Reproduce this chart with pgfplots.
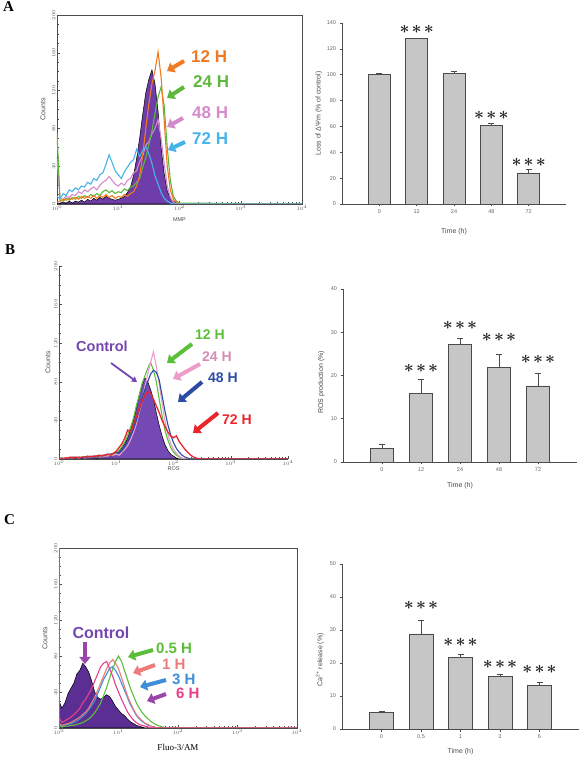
\documentclass[border=0pt]{standalone}
\usepackage{fontspec}
\setmainfont{Liberation Sans}
\newfontfamily\seriffont{Liberation Serif}
\usepackage{pgfplots}
\pgfplotsset{compat=1.18}
\usepackage{pgfplotstable}
\usetikzlibrary{arrows.meta}

\definecolor{ctlA}{HTML}{6E3DAA}
\definecolor{orangeA}{HTML}{F07A22}
\definecolor{greenA}{HTML}{5CB83C}
\definecolor{pinkA}{HTML}{D48ACB}
\definecolor{blueA}{HTML}{45B4E8}
\definecolor{ctlB}{HTML}{7449B4}
\definecolor{greenB}{HTML}{5CBF3A}
\definecolor{pinkB}{HTML}{EC9CC9}
\definecolor{blueB}{HTML}{2C4CA4}
\definecolor{redB}{HTML}{E8262C}
\definecolor{ctlC}{HTML}{5A2E92}
\definecolor{greenC}{HTML}{5DBD3B}
\definecolor{salmonC}{HTML}{EF7A7A}
\definecolor{blueC}{HTML}{3E8ED8}
\definecolor{pinkC}{HTML}{E8408A}
\definecolor{violetC}{HTML}{9A45AA}
\definecolor{ctltext}{HTML}{7447B0}
\definecolor{barfill}{HTML}{C6C6C6}
\definecolor{bardraw}{HTML}{4A4A4A}

% MMP histogram: control, 12 h, 24 h, 48 h, 72 h
\pgfplotstableread{
x ctl o12 g24 p48 b72
1.000 0 2 75 48 8
1.122 1 3 4 6 6
1.259 2 5 3 5 11
1.413 1 4 6 8 9
1.585 3 6 4 7 15
1.778 1 5 7 10 13
1.995 3 7 5 9 17
2.239 2 5 8 13 15
2.512 4 8 6 11 19
2.818 2 6 9 15 18
3.162 5 8 7 13 23
3.548 3 6 10 16 21
3.981 6 9 8 18 27
4.467 4 6 11 15 25
5.012 7 9 9 20 31
5.623 5 7 13 23 33
6.310 8 10 15 25 42
7.079 6 7 12 29 52
7.943 5 9 14 25 44
8.913 4 6 11 21 35
10.00 5 8 13 19 31
11.22 6 7 12 22 27
12.59 8 10 16 20 34
14.13 12 8 14 25 39
15.85 18 11 18 27 44
17.78 30 13 19 33 47
19.95 48 19 23 35 58
22.39 70 30 27 45 50
25.12 95 52 39 51 57
28.18 118 80 49 62 61
31.62 132 106 63 66 53
35.48 142 127 77 74 43
39.81 127 141 96 80 30
44.67 98 161 113 89 21
50.12 60 134 124 69 12
56.23 32 88 104 43 6
63.10 14 40 60 19 3
70.79 6 15 25 7 1
79.43 3 5 8 2 0
89.13 1 2 3 0 0
100.0 0 0 1 0 0
10000 0 0 0 0 0
}\histA

% ROS histogram: control, 12 h, 24 h, 48 h, 72 h
\pgfplotstableread{
x ctl g12 p24 b48 r72
1.000 0 0 0 0 1
1.122 0 1 0 1 0
1.259 1 0 1 0 1
1.413 0 1 0 1 1
1.585 1 1 1 1 2
1.778 1 2 1 2 1
1.995 1 1 2 1 2
2.239 2 1 1 2 1
2.512 1 2 2 1 2
2.818 2 2 1 2 2
3.162 1 1 2 2 3
3.548 2 2 2 3 2
3.981 2 3 2 2 3
4.467 1 2 3 3 3
5.012 2 3 2 3 4
5.623 3 2 3 4 3
6.310 3 3 3 4 4
7.079 4 4 3 5 5
7.943 3 5 4 5 4
8.913 5 4 4 6 6
10.00 6 6 5 7 8
11.22 8 9 4 6 12
12.59 12 13 7 9 16
14.13 16 18 10 13 22
15.85 22 25 14 18 30
17.78 30 33 20 24 28
19.95 40 42 27 31 36
22.39 52 55 36 40 44
25.12 66 66 48 50 52
28.18 76 78 60 62 60
31.62 84 86 75 72 66
35.48 80 94 88 80 70
39.81 72 100 100 88 68
44.67 62 92 111 92 62
50.12 48 80 96 90 55
56.23 35 62 78 82 48
63.10 24 45 58 66 40
70.79 15 30 40 50 34
79.43 9 20 26 36 28
89.13 5 12 16 25 24
100.0 3 7 10 17 22
112.2 1 4 6 11 24
125.9 0 2 3 7 18
141.3 0 1 1 4 14
158.5 0 0 0 2 10
177.8 0 0 0 1 7
199.5 0 0 0 0 4
223.9 0 0 0 0 2
251.2 0 0 0 0 1
281.8 0 0 0 0 0
10000 0 0 0 0 0
}\histB

% Fluo-3/AM histogram: control, 0.5 h, 1 h, 3 h, 6 h
\pgfplotstableread{
x ctl g05 s1 b3 m6
1.000 30 3 5 4 12
1.122 22 1 3 2 6
1.259 28 2 4 3 8
1.413 38 2 5 4 10
1.585 44 3 6 5 12
1.778 50 3 8 6 15
1.995 60 4 10 8 18
2.239 64 5 12 10 22
2.512 72 6 15 13 28
2.818 68 8 18 16 32
3.162 62 10 22 20 38
3.548 52 13 28 25 44
3.981 40 17 34 30 52
4.467 34 22 42 38 60
5.012 32 28 50 46 68
5.623 34 36 58 54 72
6.310 37 45 66 60 74
7.079 35 55 72 66 66
7.943 30 65 76 68 58
8.913 24 74 72 64 48
10.00 20 80 66 58 40
11.22 16 74 56 50 32
12.59 14 64 46 42 25
14.13 10 54 36 34 18
15.85 7 44 28 26 13
17.78 5 36 21 20 9
19.95 3 28 15 14 6
22.39 2 22 11 10 4
25.12 1 17 8 7 3
28.18 0 13 5 5 2
31.62 0 10 4 3 1
35.48 0 7 2 2 0
39.81 0 5 1 1 0
44.67 0 3 0 0 0
50.12 0 2 0 0 0
56.23 0 1 0 0 0
63.10 0 0 0 0 0
10000 0 0 0 0 0
}\histC

% bar data: position, mean, SD
\pgfplotstableread{
x y e
0 100 0.8
1 128 0.4
2 101 1.8
3 60.5 1.8
4 24 2.8
}\barA
\pgfplotstableread{
x y e
0 3.2 0.9
1 15.9 3.3
2 27.2 1.5
3 21.8 3.1
4 17.6 3.0
}\barB
\pgfplotstableread{
x y e
0 5.0 0.5
1 28.8 4.0
2 21.7 0.9
3 15.9 0.8
4 13.1 1.0
}\barC

\tikzset{
  stars/.style={font=\boldmath\fontsize{17}{17}\selectfont, text=black!85, inner sep=0},
  harrow/.style={line width=4pt, -{Triangle[length=7pt,width=11pt]}},
}
\newcommand{\threestars}{${\ast}\mkern2mu{\ast}\mkern2mu{\ast}$}

\begin{document}
\begin{tikzpicture}
\path[use as bounding box] (0pt,0pt) rectangle (585pt,760pt);

% panel letters
\node[anchor=base west, inner sep=0, font=\seriffont\bfseries\fontsize{15}{15}\selectfont] at (3pt,748pt) {A};
\node[anchor=base west, inner sep=0, font=\seriffont\bfseries\fontsize{15}{15}\selectfont] at (5pt,505pt) {B};
\node[anchor=base west, inner sep=0, font=\seriffont\bfseries\fontsize{15}{15}\selectfont] at (4pt,235pt) {C};

% ---------------- A: MMP histogram ----------------
\begin{axis}[scale only axis, at={(57pt,556pt)}, anchor=south west,
  width=245pt, height=189pt,
  xmode=log, xmin=1, xmax=10000, ymin=0, ymax=200,
  ytick={0,40,80,120,160,200}, minor y tick num=3,
  xtick pos=bottom, ytick pos=left, tick align=inside,
  major tick length=3pt, minor tick length=1.6pt,
  tick style={black!70, line width=0.4pt},
  tick label style={font=\fontsize{5.5}{6}\selectfont, text=black!65},
  yticklabel style={rotate=90, anchor=south, inner sep=1.5pt},
  xticklabel style={inner sep=1pt},
  axis line style={black!70, line width=0.5pt},
  ylabel={Counts},
  ylabel style={font=\fontsize{7}{8}\selectfont, text=black!70, anchor=center, at={(axis description cs:-0.057,0.5)}},
  xlabel={MMP},
  xlabel style={font=\fontsize{5.5}{6}\selectfont, text=black!70, anchor=center, at={(axis description cs:0.5,0)}, yshift=-16pt}]
\addplot[fill=ctlA, draw=black, line width=0.5pt] table[x=x,y=ctl]{\histA} \closedcycle;
\addplot[pinkA, line width=1.1pt, no marks] table[x=x,y=p48]{\histA};
\addplot[greenA, line width=1.1pt, no marks] table[x=x,y=g24]{\histA};
\addplot[orangeA, line width=1.1pt, no marks] table[x=x,y=o12]{\histA};
\addplot[blueA, line width=1.1pt, no marks] table[x=x,y=b72]{\histA};
\end{axis}
\draw[harrow, orangeA] (184pt,699pt) -- (167pt,689pt);
\draw[harrow, greenA] (184pt,673pt) -- (167pt,662pt);
\draw[harrow, pinkA] (183pt,642pt) -- (167pt,633pt);
\draw[harrow, blueA] (185pt,618pt) -- (168pt,610pt);
\node[anchor=west, inner sep=0, font=\bfseries\fontsize{17}{17}\selectfont, text=orangeA] at (191pt,703pt) {12 H};
\node[anchor=west, inner sep=0, font=\bfseries\fontsize{17}{17}\selectfont, text=greenA] at (193pt,678pt) {24 H};
\node[anchor=west, inner sep=0, font=\bfseries\fontsize{17}{17}\selectfont, text=pinkA] at (192pt,647pt) {48 H};
\node[anchor=west, inner sep=0, font=\bfseries\fontsize{17}{17}\selectfont, text=blueA] at (192pt,621pt) {72 H};

% ---------------- A: loss of membrane potential ----------------
\begin{axis}[scale only axis, at={(342pt,556pt)}, anchor=south west,
  width=224pt, height=181pt,
  xmin=-1, xmax=5, ymin=0, ymax=140,
  axis x line*=bottom, axis y line*=left,
  axis line style={-, draw=black!70, line width=0.6pt},
  xtick={0,1,2,3,4}, xticklabels={0,12,24,48,72},
  ytick={0,20,40,60,80,100,120,140},
  tick align=outside, major tick length=2.5pt,
  tick style={black!70, line width=0.5pt},
  tick label style={font=\fontsize{5.5}{6}\selectfont, text=black!60},
  /pgf/number format/assume math mode=true,
  ylabel={Loss of ΔΨm (\% of control)},
  ylabel style={font=\fontsize{7}{8}\selectfont, text=black!70, anchor=center, at={(axis description cs:-0.103,0.5)}},
  xlabel={Time (h)},
  xlabel style={font=\fontsize{7}{8}\selectfont, text=black!70, anchor=center, at={(axis description cs:0.5,0)}, yshift=-28pt}]
\addplot[ybar, bar width=22pt, fill=barfill, draw=bardraw, line width=0.6pt,
  error bars/.cd, y dir=plus, y explicit,
  error bar style={draw=bardraw, line width=0.6pt},
  error mark options={rotate=90, mark size=3pt, draw=bardraw, line width=0.6pt}]
  table[x=x,y=y,y error=e]{\barA};
\node[stars] at (axis cs:1,135.3) {\threestars};
\node[stars] at (axis cs:3,68.8) {\threestars};
\node[stars] at (axis cs:4,32.5) {\threestars};
\end{axis}

% ---------------- B: ROS histogram ----------------
\begin{axis}[scale only axis, at={(59pt,301pt)}, anchor=south west,
  width=229pt, height=193pt,
  xmode=log, xmin=1, xmax=10000, ymin=0, ymax=200,
  axis x line*=bottom, axis y line*=left,
  ytick={0,40,80,120,160,200}, minor y tick num=3,
  tick align=inside,
  major tick length=3pt, minor tick length=1.6pt,
  tick style={black!70, line width=0.4pt},
  tick label style={font=\fontsize{5.5}{6}\selectfont, text=black!65},
  yticklabel style={rotate=90, anchor=south, inner sep=1.5pt},
  xticklabel style={inner sep=1pt},
  axis line style={-, black!70, line width=0.5pt},
  ylabel={Counts},
  ylabel style={font=\fontsize{7}{8}\selectfont, text=black!70, anchor=center, at={(axis description cs:-0.048,0.5)}},
  xlabel={ROS},
  xlabel style={font=\fontsize{5.5}{6}\selectfont, text=black!70, anchor=center, at={(axis description cs:0.5,0)}, yshift=-10pt}]
\addplot[fill=ctlB, draw=black, line width=0.5pt] table[x=x,y=ctl]{\histB} \closedcycle;
\addplot[greenB, line width=1.1pt, no marks] table[x=x,y=g12]{\histB};
\addplot[pinkB, line width=1.1pt, no marks] table[x=x,y=p24]{\histB};
\addplot[blueB, line width=1.1pt, no marks] table[x=x,y=b48]{\histB};
\addplot[redB, line width=1.3pt, no marks] table[x=x,y=r72]{\histB};
\end{axis}
\draw[harrow, greenB] (192pt,416pt) -- (167pt,397pt);
\draw[harrow, pinkB] (200pt,396pt) -- (173pt,381pt);
\draw[harrow, blueB] (202pt,378pt) -- (178pt,358pt);
\draw[harrow, redB] (218pt,347pt) -- (193pt,327pt);
\draw[line width=1.8pt, ctltext, -{Triangle[length=5pt,width=6pt]}] (111pt,397pt) -- (137pt,378pt);
\node[anchor=west, inner sep=0, font=\bfseries\fontsize{14}{14}\selectfont, text=greenB] at (195pt,425pt) {12 H};
\node[anchor=west, inner sep=0, font=\bfseries\fontsize{14}{14}\selectfont, text=pinkB!90!black] at (202pt,403pt) {24 H};
\node[anchor=west, inner sep=0, font=\bfseries\fontsize{14}{14}\selectfont, text=blueB] at (208pt,382pt) {48 H};
\node[anchor=west, inner sep=0, font=\bfseries\fontsize{14}{14}\selectfont, text=redB] at (222pt,340pt) {72 H};
\node[inner sep=0, font=\bfseries\fontsize{14.5}{14.5}\selectfont, text=ctltext] at (102pt,414pt) {Control};

% ---------------- B: ROS production ----------------
\begin{axis}[scale only axis, at={(343pt,298pt)}, anchor=south west,
  width=234pt, height=173pt,
  xmin=-1, xmax=5, ymin=0, ymax=40,
  axis x line*=bottom, axis y line*=left,
  axis line style={-, draw=black!70, line width=0.6pt},
  xtick={0,1,2,3,4}, xticklabels={0,12,24,48,72},
  ytick={0,10,20,30,40},
  tick align=outside, major tick length=2.5pt,
  tick style={black!70, line width=0.5pt},
  tick label style={font=\fontsize{5.5}{6}\selectfont, text=black!60},
  /pgf/number format/assume math mode=true,
  ylabel={ROS production (\%)},
  ylabel style={font=\fontsize{7}{8}\selectfont, text=black!70, anchor=center, at={(axis description cs:-0.093,0.46)}},
  xlabel={Time (h)},
  xlabel style={font=\fontsize{7}{8}\selectfont, text=black!70, anchor=center, at={(axis description cs:0.5,0)}, yshift=-24pt}]
\addplot[ybar, bar width=23pt, fill=barfill, draw=bardraw, line width=0.6pt,
  error bars/.cd, y dir=plus, y explicit,
  error bar style={draw=bardraw, line width=0.6pt},
  error mark options={rotate=90, mark size=3pt, draw=bardraw, line width=0.6pt}]
  table[x=x,y=y,y error=e]{\barB};
\node[stars] at (axis cs:1,21.7) {\threestars};
\node[stars] at (axis cs:2,31.5) {\threestars};
\node[stars] at (axis cs:3,28.7) {\threestars};
\node[stars] at (axis cs:4,23.8) {\threestars};
\end{axis}

% ---------------- C: Fluo-3/AM histogram ----------------
\begin{axis}[scale only axis, at={(59pt,32pt)}, anchor=south west,
  width=238pt, height=180pt,
  xmode=log, xmin=1, xmax=10000, ymin=0, ymax=200,
  ytick={0,40,80,120,160,200}, minor y tick num=3,
  xtick pos=bottom, ytick pos=left, tick align=inside,
  major tick length=3pt, minor tick length=1.6pt,
  tick style={black!70, line width=0.4pt},
  tick label style={font=\fontsize{5.5}{6}\selectfont, text=black!65},
  yticklabel style={rotate=90, anchor=south, inner sep=1.5pt},
  xticklabel style={inner sep=1pt},
  axis line style={black!70, line width=0.5pt},
  ylabel={Counts},
  ylabel style={font=\fontsize{7}{8}\selectfont, text=black!70, anchor=center, at={(axis description cs:-0.059,0.5)}},
  xlabel={Fluo-3/AM},
  xlabel style={font=\seriffont\fontsize{9}{10}\selectfont, text=black, anchor=center, at={(axis description cs:0.5,0)}, yshift=-19pt}]
\addplot[fill=ctlC, draw=black, line width=0.5pt] table[x=x,y=ctl]{\histC} \closedcycle;
\addplot[blueC, line width=1.1pt, no marks] table[x=x,y=b3]{\histC};
\addplot[salmonC, line width=1.1pt, no marks] table[x=x,y=s1]{\histC};
\addplot[greenC, line width=1.1pt, no marks] table[x=x,y=g05]{\histC};
\addplot[pinkC, line width=1.1pt, no marks] table[x=x,y=m6]{\histC};
\addplot[pinkC, line width=1.2pt, no marks] coordinates {(1,0) (1,200)};
\addplot[pinkC!60!black, line width=0.8pt, no marks] coordinates {(10000,0) (10000,200)};
\end{axis}
\draw[harrow, violetC] (85pt,118pt) -- (85pt,96pt);
\draw[harrow, greenC] (153pt,110pt) -- (128pt,103pt);
\draw[harrow, salmonC] (155pt,95pt) -- (133pt,87pt);
\draw[harrow, blueC] (166pt,80pt) -- (140pt,73pt);
\draw[harrow, violetC] (166pt,66pt) -- (147pt,59pt);
\node[anchor=west, inner sep=0, font=\bfseries\fontsize{15}{15}\selectfont, text=greenC] at (156pt,111.5pt) {0.5 H};
\node[anchor=west, inner sep=0, font=\bfseries\fontsize{15}{15}\selectfont, text=salmonC] at (162pt,96pt) {1 H};
\node[anchor=west, inner sep=0, font=\bfseries\fontsize{15}{15}\selectfont, text=blueC] at (172pt,81pt) {3 H};
\node[anchor=west, inner sep=0, font=\bfseries\fontsize{15}{15}\selectfont, text=pinkC] at (176pt,66.5pt) {6 H};
\node[inner sep=0, font=\bfseries\fontsize{16}{16}\selectfont, text=ctltext] at (101pt,127.5pt) {Control};

% ---------------- C: Ca2+ release ----------------
\begin{axis}[scale only axis, at={(342pt,31pt)}, anchor=south west,
  width=237pt, height=165pt,
  xmin=-1, xmax=5, ymin=0, ymax=50,
  axis x line*=bottom, axis y line*=left,
  axis line style={-, draw=black!70, line width=0.6pt},
  xtick={0,1,2,3,4}, xticklabels={0,0.5,1,3,6},
  ytick={0,10,20,30,40,50},
  tick align=outside, major tick length=2.5pt,
  tick style={black!70, line width=0.5pt},
  tick label style={font=\fontsize{5.5}{6}\selectfont, text=black!60},
  /pgf/number format/assume math mode=true,
  ylabel={Ca\textsuperscript{2+} release (\%)},
  ylabel style={font=\fontsize{7}{8}\selectfont, text=black!70, anchor=center, at={(axis description cs:-0.093,0.42)}},
  xlabel={Time (h)},
  xlabel style={font=\fontsize{7}{8}\selectfont, text=black!70, anchor=center, at={(axis description cs:0.5,0)}, yshift=-23pt}]
\addplot[ybar, bar width=24pt, fill=barfill, draw=bardraw, line width=0.6pt,
  error bars/.cd, y dir=plus, y explicit,
  error bar style={draw=bardraw, line width=0.6pt},
  error mark options={rotate=90, mark size=3pt, draw=bardraw, line width=0.6pt}]
  table[x=x,y=y,y error=e]{\barC};
\node[stars] at (axis cs:1,37.4) {\threestars};
\node[stars] at (axis cs:2,26.2) {\threestars};
\node[stars] at (axis cs:3,19.6) {\threestars};
\node[stars] at (axis cs:4,18.1) {\threestars};
\end{axis}
\end{tikzpicture}
\end{document}
